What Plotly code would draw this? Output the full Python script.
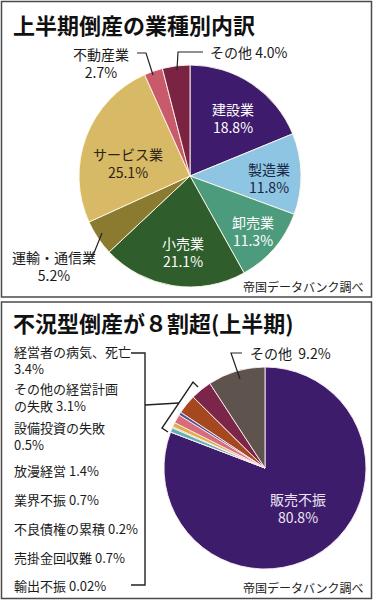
import plotly.graph_objects as go

W, H = 373, 600
FONT = "Noto Sans CJK JP"

# ---- data: top chart ----
top_title = "上半期倒産の業種別内訳"
top_labels = ["建設業", "製造業", "卸売業", "小売業", "運輸・通信業", "サービス業", "不動産業", "その他"]
top_values = [18.8, 11.8, 11.3, 21.1, 5.2, 25.1, 2.7, 4.0]
top_colors = ["#3e1b6c", "#8ec5e3", "#4d9b7d", "#2f5d2b", "#8b7b31", "#d8b965", "#c85a6c", "#7a2343"]

# ---- data: bottom chart ----
bot_title = "不況型倒産が８割超(上半期)"
bot_labels = ["販売不振", "輸出不振", "売掛金回収難", "不良債権の累積", "業界不振", "放漫経営",
              "設備投資の失敗", "その他の経営計画の失敗", "経営者の病気、死亡", "その他"]
bot_values = [80.8, 0.02, 0.7, 0.2, 0.7, 1.4, 0.5, 3.1, 3.4, 9.2]
bot_colors = ["#3d1d6b", "#8fd0e0", "#5eb3b0", "#8cc05a", "#e0ae40", "#d76c7a",
              "#4f528e", "#a5481f", "#7b2548", "#5f544d"]

source = "帝国データバンク調べ"


def X(px):
    return px / W


def Y(py):
    return 1 - py / H


fig = go.Figure()

fig.add_trace(go.Pie(
    labels=top_labels, values=top_values, sort=False, direction="clockwise", rotation=0,
    marker=dict(colors=top_colors, line=dict(color="rgba(255,250,235,0.9)", width=1)),
    textinfo="none", hoverinfo="label+percent", showlegend=False,
    domain=dict(x=[X(79), X(301)], y=[Y(287), Y(65)]),
))

fig.add_trace(go.Pie(
    labels=bot_labels, values=bot_values, sort=False, direction="clockwise", rotation=0,
    marker=dict(colors=bot_colors, line=dict(color="rgba(255,235,245,0.9)", width=1)),
    textinfo="none", hoverinfo="label+percent", showlegend=False,
    domain=dict(x=[X(164), X(366)], y=[Y(569), Y(367)]),
))

annotations = []


def txt(s, x, y, size=14, color="#1a1a1a", xanchor="center", bold=False, family=FONT):
    if bold:
        s = "<b>" + s + "</b>"
    annotations.append(dict(text=s, x=X(x), y=Y(y), xref="paper", yref="paper",
                            xanchor=xanchor, yanchor="middle", showarrow=False,
                            align=xanchor if xanchor != "center" else "center",
                            font=dict(family=family, size=size, color=color)))


def pct(v):
    return f"{v}%"


# titles
txt(top_title, 11, 24, size=22, xanchor="left", bold=True, color="#111")
txt(bot_title, 11, 322, size=22, xanchor="left", bold=True, color="#111")

# top pie labels (inside), two lines each
inside_top = {0: (233, 118, "#ffffff"), 1: (269, 178, "#1b2440"), 2: (253, 231, "#ffffff"),
              3: (183, 252, "#ffffff"), 5: (128, 163, "#2a2418")}
for i, (x, y, c) in inside_top.items():
    txt(f"{top_labels[i]}<br>{pct(top_values[i])}", x, y, color=c)

# top pie labels (outside)
txt(f"{top_labels[4]}<br>{pct(top_values[4])}", 54, 266)
txt(f"{top_labels[6]}<br>{pct(top_values[6])}", 101, 63)
txt(f"{top_labels[7]} {pct(top_values[7])}", 208, 52, xanchor="left")

# bottom pie labels
txt(f"{bot_labels[0]}<br>{pct(bot_values[0])}", 298, 508, color="#ece4f4")
txt(f"{bot_labels[9]}  {pct(bot_values[9])}", 248, 353, xanchor="left")

# bottom left list
left_items = [
    ("経営者の病気、死亡<br>" + pct(bot_values[8]), 360),
    ("その他の経営計画<br>の失敗 " + pct(bot_values[7]), 397),
    ("設備投資の失敗<br>" + pct(bot_values[6]), 436),
    (f"{bot_labels[5]} {pct(bot_values[5])}", 470),
    (f"{bot_labels[4]} {pct(bot_values[4])}", 499),
    (f"{bot_labels[3]} {pct(bot_values[3])}", 528),
    (f"{bot_labels[2]} {pct(bot_values[2])}", 557),
    (f"{bot_labels[1]} {pct(bot_values[1])}", 585),
]
for s, y in left_items:
    txt(s, 12, y, size=13, xanchor="left")

# source notes
txt(source, 366, 287, size=12, xanchor="right", color="#222")
txt(source, 366, 587, size=12, xanchor="right", color="#222")

shapes = []


def rect(x0, y0, x1, y1):
    shapes.append(dict(type="rect", xref="paper", yref="paper", x0=X(x0), x1=X(x1),
                       y0=Y(y1), y1=Y(y0), line=dict(color="#4a4a4a", width=1.5)))


def path(points, width=1.2):
    d = "M " + " L ".join(f"{X(px):.5f},{Y(py):.5f}" for px, py in points)
    shapes.append(dict(type="path", xref="paper", yref="paper", path=d,
                       line=dict(color="#222", width=width)))


rect(1.5, 1.5, 371.5, 297)
rect(1.5, 302, 371.5, 598.5)

# top leaders
path([(137, 53), (146, 53), (153, 75)])
path([(203, 52), (178, 52), (177, 70)])
path([(92, 258), (102, 233)])

# bottom leaders
path([(242, 353), (231, 353), (240, 379)])
path([(131, 353), (145, 353), (145, 585), (131, 585)], width=1.4)
path([(145, 405), (179, 403)], width=1.4)
path([(198, 387), (193, 382), (162, 428), (168, 432)], width=1.4)

fig.update_layout(
    width=W, height=H, margin=dict(l=0, r=0, t=0, b=0),
    paper_bgcolor="white", plot_bgcolor="white",
    annotations=annotations, shapes=shapes, showlegend=False,
)

fig.write_html("out.html", config={"displayModeBar": False},
               post_script="document.body.style.margin='0';")
